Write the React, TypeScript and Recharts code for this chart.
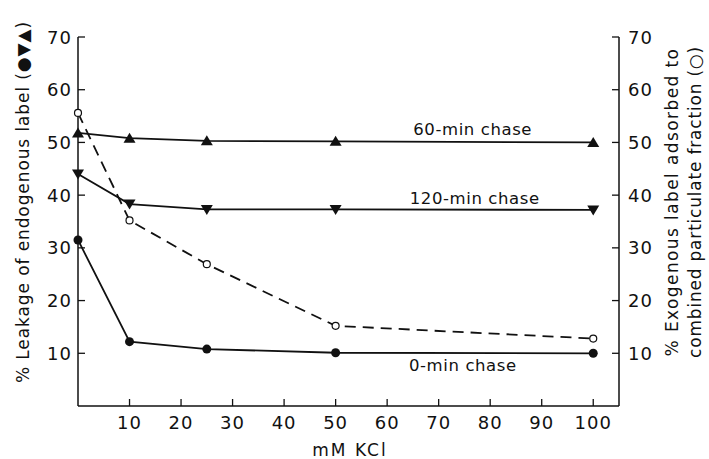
import { ComposedChart, Line, XAxis, YAxis, ReferenceDot, Label } from 'recharts';

// mM KCl where samples were taken
const kcl = [0, 10, 25, 50, 100];
// % leakage of endogenous label
const chase0 = [31.5, 12.2, 10.8, 10.1, 10.0];
const chase60 = [51.8, 50.8, 50.3, 50.2, 50.0];
const chase120 = [44.0, 38.3, 37.3, 37.3, 37.2];
// % exogenous label adsorbed (right axis)
const exogenous = [55.6, 35.2, 26.9, 15.2, 12.8];

const xTicks = [10, 20, 30, 40, 50, 60, 70, 80, 90, 100];
const yTicks = [10, 20, 30, 40, 50, 60, 70];

const data = kcl.map((k, i) => ({
  kcl: k,
  chase0: chase0[i],
  chase60: chase60[i],
  chase120: chase120[i],
  exogenous: exogenous[i],
}));

const FONT = '"DejaVu Sans", sans-serif';
const INK = '#111';

const XTick = ({ x, y, payload }: any) => (
  <g>
    <line x1={x} y1={y} x2={x} y2={y - 7} stroke={INK} strokeWidth={1.3} />
    <text x={x} y={y + 23} textAnchor="middle" fontFamily={FONT} fontSize={18} fill={INK} letterSpacing={1}>
      {payload.value}
    </text>
  </g>
);

const LeftTick = ({ x, y, payload }: any) => (
  <g>
    <line x1={x} y1={y} x2={x + 7} y2={y} stroke={INK} strokeWidth={1.3} />
    <text x={x - 6} y={y + 6.5} textAnchor="end" fontFamily={FONT} fontSize={18} fill={INK} letterSpacing={1}>
      {payload.value}
    </text>
  </g>
);

const RightTick = ({ x, y, payload }: any) => (
  <g>
    <line x1={x} y1={y} x2={x - 7} y2={y} stroke={INK} strokeWidth={1.3} />
    <text x={x + 9} y={y + 6.5} textAnchor="start" fontFamily={FONT} fontSize={18} fill={INK} letterSpacing={1}>
      {payload.value}
    </text>
  </g>
);

const TriUp = ({ cx, cy }: any) => (
  <polygon points={`${cx},${cy - 5.5} ${cx - 6},${cy + 4.5} ${cx + 6},${cy + 4.5}`} fill={INK} />
);
const TriDown = ({ cx, cy }: any) => (
  <polygon points={`${cx},${cy + 5.5} ${cx - 6},${cy - 4.5} ${cx + 6},${cy - 4.5}`} fill={INK} />
);
const Dot = ({ cx, cy }: any) => <circle cx={cx} cy={cy} r={4.5} fill={INK} />;
const OpenDot = ({ cx, cy }: any) => (
  <circle cx={cx} cy={cy} r={3.5} fill="#fff" stroke={INK} strokeWidth={1.2} />
);

const noteLabel = (text: string) => ({
  value: text,
  position: 'center' as const,
  fontFamily: FONT,
  fontSize: 16.5,
  fill: INK,
  letterSpacing: 0.6,
});

export default function App() {
  return (
    <div style={{ position: 'absolute', left: 0, top: 0, background: '#fff' }}>
      <ComposedChart width={709} height={459} data={data} margin={{ top: 37, right: 0, bottom: 0, left: 0 }}>
        <XAxis
          dataKey="kcl"
          type="number"
          domain={[0, 105]}
          ticks={xTicks}
          interval={0}
          height={53}
          tickSize={0}
          tickMargin={0}
          tick={<XTick />}
          axisLine={{ stroke: INK, strokeWidth: 1.5 }}
          tickLine={false}
        >
          <Label
            content={() => (
              <text x={350} y={456} textAnchor="middle" fontFamily={FONT} fontSize={17} fill={INK} letterSpacing={2}>
                mM KCl
              </text>
            )}
          />
        </XAxis>
        <YAxis
          yAxisId="left"
          domain={[0, 70]}
          ticks={yTicks}
          interval={0}
          width={78}
          tickSize={0}
          tickMargin={0}
          tick={<LeftTick />}
          axisLine={{ stroke: INK, strokeWidth: 1.5 }}
          tickLine={false}
        >
          <Label
            content={() => (
              <text
                x={0}
                y={0}
                transform="translate(29 202) rotate(-90)"
                textAnchor="middle"
                fontFamily={FONT}
                fontSize={17}
                fill={INK}
                letterSpacing={0.9}
              >
                % Leakage of endogenous label (●▼▲)
              </text>
            )}
          />
        </YAxis>
        <YAxis
          yAxisId="right"
          orientation="right"
          domain={[0, 70]}
          ticks={yTicks}
          interval={0}
          width={90}
          tickSize={0}
          tickMargin={0}
          tick={<RightTick />}
          axisLine={{ stroke: INK, strokeWidth: 1.5 }}
          tickLine={false}
        >
          <Label
            content={() => (
              <g fontFamily={FONT} fontSize={17} fill={INK}>
                <text x={0} y={0} transform="translate(678 202) rotate(-90)" textAnchor="middle" letterSpacing={1.4}>
                  % Exogenous label adsorbed to
                </text>
                <text x={0} y={0} transform="translate(701 202) rotate(-90)" textAnchor="middle" letterSpacing={0.8}>
                  combined particulate fraction (○)
                </text>
              </g>
            )}
          />
        </YAxis>

        <Line
          yAxisId="right"
          dataKey="exogenous"
          type="linear"
          stroke={INK}
          strokeWidth={1.8}
          strokeDasharray="11 7"
          dot={(p: any) => <OpenDot key={`e${p.index}`} cx={p.cx} cy={p.cy} />}
          activeDot={false}
          isAnimationActive={false}
        />
        <Line
          yAxisId="left"
          dataKey="chase60"
          type="linear"
          stroke={INK}
          strokeWidth={1.8}
          dot={(p: any) => <TriUp key={`u${p.index}`} cx={p.cx} cy={p.cy} />}
          activeDot={false}
          isAnimationActive={false}
        />
        <Line
          yAxisId="left"
          dataKey="chase120"
          type="linear"
          stroke={INK}
          strokeWidth={1.8}
          dot={(p: any) => <TriDown key={`d${p.index}`} cx={p.cx} cy={p.cy} />}
          activeDot={false}
          isAnimationActive={false}
        />
        <Line
          yAxisId="left"
          dataKey="chase0"
          type="linear"
          stroke={INK}
          strokeWidth={1.8}
          dot={(p: any) => <Dot key={`c${p.index}`} cx={p.cx} cy={p.cy} />}
          activeDot={false}
          isAnimationActive={false}
        />

        <ReferenceDot yAxisId="left" x={76.6} y={52.5} r={0} fill="none" stroke="none" label={noteLabel('60-min chase')} />
        <ReferenceDot yAxisId="left" x={77} y={39.5} r={0} fill="none" stroke="none" label={noteLabel('120-min chase')} />
        <ReferenceDot yAxisId="left" x={74.7} y={7.8} r={0} fill="none" stroke="none" label={noteLabel('0-min chase')} />
      </ComposedChart>
    </div>
  );
}
